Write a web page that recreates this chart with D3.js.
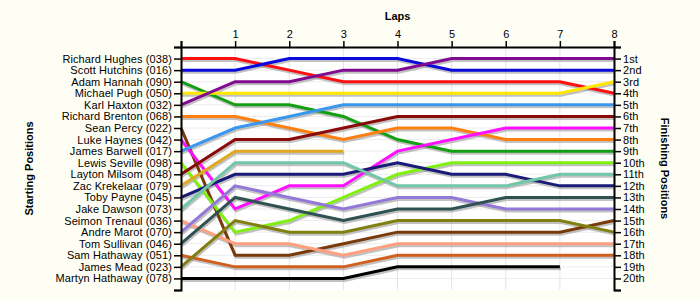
<!DOCTYPE html>
<html>
<head>
<meta charset="utf-8">
<script src="https://cdn.jsdelivr.net/npm/d3@7"></script>
<style>
  body { margin: 0; background: #fffef4; }
  text { font-family: "Liberation Sans", Arial, sans-serif; }
</style>
</head>
<body>
<script>
// drivers in starting order
var drivers = ["Richard Hughes (038)", "Scott Hutchins (016)", "Adam Hannah (090)", "Michael Pugh (050)",
  "Karl Haxton (032)", "Richard Brenton (068)", "Sean Percy (022)", "Luke Haynes (042)",
  "James Barwell (017)", "Lewis Seville (098)", "Layton Milsom (048)", "Zac Krekelaar (079)",
  "Toby Payne (045)", "Jake Dawson (073)", "Seimon Trenaul (036)", "Andre Marot (070)",
  "Tom Sullivan (046)", "Sam Hathaway (051)", "James Mead (023)", "Martyn Hathaway (078)"];

var colors = ["#ff1010", "#0a0adc", "#12a012", "#ffe800", "#800a90", "#ff8010", "#7a3a08", "#ff10ff",
  "#3a96ee", "#80f010", "#8a0a0a", "#e0a820", "#1a1a78", "#70c8a8", "#ffa080", "#9478d8",
  "#2e5252", "#d06020", "#808010", "#000000"];

// position of each driver after each lap (lap 0 = grid)
var positions = [
  [1, 1, 2, 3, 3, 3, 3, 3, 4],
  [2, 2, 1, 1, 1, 2, 2, 2, 2],
  [3, 5, 5, 6, 8, 9, 9, 9, 9],
  [4, 4, 4, 4, 4, 4, 4, 4, 3],
  [5, 3, 3, 2, 2, 1, 1, 1, 1],
  [6, 6, 7, 8, 7, 7, 8, 8, 8],
  [7, 18, 18, 17, 16, 16, 16, 16, 15],
  [8, 14, 12, 12, 9, 8, 7, 7, 7],
  [9, 7, 6, 5, 5, 5, 5, 5, 5],
  [10, 16, 15, 13, 11, 10, 10, 10, 10],
  [11, 8, 8, 7, 6, 6, 6, 6, 6],
  [12, 9, 9, 9],
  [13, 11, 11, 11, 10, 11, 11, 12, 12],
  [14, 10, 10, 10, 12, 12, 12, 11, 11],
  [15, 17, 17, 18, 17, 17, 17, 17, 17],
  [16, 12, 13, 14, 13, 13, 14, 14, 14],
  [17, 13, 14, 15, 14, 14, 13, 13, 13],
  [18, 19, 19, 19, 18, 18, 18, 18, 18],
  [19, 15, 16, 16, 15, 15, 15, 15, 16],
  [20, 20, 20, 20, 19, 19, 19, 19]
];

var laps = [1, 2, 3, 4, 5, 6, 7, 8];
var places = ["1st", "2nd", "3rd", "4th", "5th", "6th", "7th", "8th", "9th", "10th",
  "11th", "12th", "13th", "14th", "15th", "16th", "17th", "18th", "19th", "20th"];

var width = 700, height = 300;
var margin = {top: 47, right: 86, bottom: 10, left: 181};
var w = width - margin.left - margin.right,
    h = height - margin.top - margin.bottom;

var svg = d3.select("body").append("svg")
  .attr("width", width)
  .attr("height", height);

var g = svg.append("g")
  .attr("transform", "translate(" + margin.left + "," + margin.top + ")");

var x = d3.scaleLinear().domain([0, 8]).range([0, w]);
var y = d3.scaleLinear().domain([0, 21]).range([0, h]);

g.append("rect").attr("width", w).attr("height", h).attr("fill", "#ffffff");

// grid
g.append("g").selectAll("line").data(laps).join("line")
  .attr("x1", d => x(d)).attr("x2", d => x(d))
  .attr("y1", 0).attr("y2", h)
  .attr("stroke", "#e4e4e4");
g.append("g").selectAll("line").data(d3.range(1, 21)).join("line")
  .attr("x1", 0).attr("x2", w)
  .attr("y1", d => y(d)).attr("y2", d => y(d))
  .attr("stroke", "#ececec");

var line = d3.line()
  .x((d, i) => x(i))
  .y(d => y(d));

// shadows
g.append("g").selectAll("path").data(positions).join("path")
  .attr("d", line)
  .attr("transform", "translate(1,2)")
  .attr("fill", "none")
  .attr("stroke", "#999")
  .attr("stroke-opacity", 0.6)
  .attr("stroke-width", 3);

g.append("g").selectAll("path").data(positions).join("path")
  .attr("d", line)
  .attr("fill", "none")
  .attr("stroke", (d, i) => colors[i])
  .attr("stroke-width", 3);

// axes
var leftAxis = d3.axisLeft(y).tickValues(d3.range(0, 22)).tickSize(7).tickPadding(2)
  .tickFormat(d => (d >= 1 && d <= 20) ? drivers[d - 1] : "");
var rightAxis = d3.axisRight(y).tickValues(d3.range(0, 22)).tickSize(7).tickPadding(2)
  .tickFormat(d => (d >= 1 && d <= 20) ? places[d - 1] : "");
var topAxis = d3.axisTop(x).tickValues([0].concat(laps)).tickSize(6).tickPadding(3)
  .tickFormat(d => d === 0 ? "" : d);

[g.append("g").call(leftAxis),
 g.append("g").attr("transform", "translate(" + w + ",0)").call(rightAxis),
 g.append("g").call(topAxis)].forEach(function(a) {
  a.select(".domain").attr("stroke", "#000").attr("stroke-width", 2);
  a.selectAll(".tick line").attr("stroke", "#000").attr("stroke-width", 1.5);
  a.selectAll("text").attr("font-size", 11).attr("letter-spacing", "0.1px").attr("fill", "#000");
});

// titles
svg.append("text")
  .attr("x", margin.left + w / 2).attr("y", 20)
  .attr("text-anchor", "middle").attr("font-weight", "bold").attr("font-size", 11)
  .text("Laps");
svg.append("text")
  .attr("transform", "translate(33," + (margin.top + h / 2) + ") rotate(-90)")
  .attr("text-anchor", "middle").attr("font-weight", "bold").attr("font-size", 11)
  .text("Starting Positions");
svg.append("text")
  .attr("transform", "translate(661," + (margin.top + h / 2) + ") rotate(90)")
  .attr("text-anchor", "middle").attr("font-weight", "bold").attr("font-size", 11)
  .text("Finishing Positions");
</script>
</body>
</html>
